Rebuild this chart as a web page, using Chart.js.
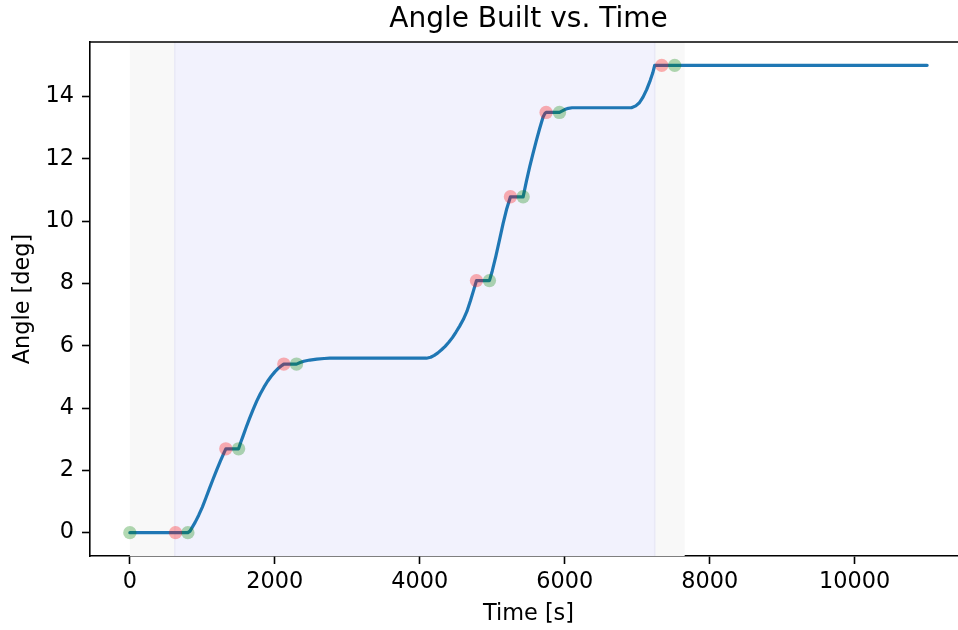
<!DOCTYPE html>
<html lang="en">

<head>
    <meta charset="utf-8" />
    <title>Angle Built vs. Time</title>
    <script src="https://cdn.jsdelivr.net/npm/chart.js"></script>
    <style>
        html, body { margin: 0; padding: 0; background: #fff; overflow: hidden; width: 958px; height: 630px; }
        #wrap { width: 1000px; height: 630px; }
    </style>
</head>

<body>
    <div id="wrap"><canvas id="angleChart" width="1000" height="630"></canvas></div>

    <script>
        // built angle curve
        const lineTimes = [0, 630, 800, 830, 860, 900, 950, 1000, 1050, 1100, 1150, 1200, 1250, 1300, 1324,
            1500, 1530, 1560, 1600, 1650, 1700, 1750, 1800, 1850, 1900, 1950, 2000, 2050, 2100, 2124,
            2299, 2350, 2400, 2483, 2580, 2680, 2759,
            4092, 4150, 4200, 4250, 4300, 4350, 4400, 4450, 4500, 4550, 4600, 4650, 4700, 4740, 4782,
            4961, 5000, 5050, 5100, 5150, 5200, 5251,
            5426, 5470, 5517, 5560, 5609, 5655, 5701, 5725, 5743,
            5927, 5960, 6000, 6050, 6100,
            6920, 6980, 7030, 7080, 7130, 7180, 7215, 7241, 11000];
        const lineAngles = [0, 0, 0, 0.05, 0.17, 0.33, 0.56, 0.82, 1.12, 1.43, 1.73, 2.02, 2.30, 2.57, 2.69,
            2.69, 2.90, 3.09, 3.35, 3.66, 3.95, 4.22, 4.46, 4.67, 4.86, 5.02, 5.16, 5.28, 5.37, 5.41,
            5.41, 5.46, 5.50, 5.54, 5.57, 5.59, 5.60,
            5.60, 5.63, 5.69, 5.77, 5.87, 5.98, 6.11, 6.26, 6.44, 6.63, 6.84, 7.10, 7.45, 7.76, 8.09,
            8.09, 8.40, 8.88, 9.40, 9.93, 10.40, 10.78,
            10.78, 11.27, 11.75, 12.15, 12.59, 12.98, 13.34, 13.45, 13.49,
            13.49, 13.53, 13.58, 13.62, 13.64,
            13.64, 13.70, 13.80, 13.98, 14.22, 14.52, 14.76, 15.0, 15.0];

        // stage end / start markers
        const redTimes = [630, 1324, 2124, 4782, 5251, 5743, 7338];
        const redAngles = [0, 2.69, 5.41, 8.09, 10.78, 13.49, 15.0];
        const greenTimes = [0, 800, 1500, 2299, 4961, 5426, 5927, 7517];
        const greenAngles = [0, 0, 2.69, 5.41, 8.09, 10.78, 13.49, 15.0];

        // shaded phases [start, end]
        const graySpans = [[0, 620], [7241, 7655]];
        const blueSpans = [[620, 7241]];

        const xTicks = [0, 2000, 4000, 6000, 8000, 10000];
        const yTicks = [0, 2, 4, 6, 8, 10, 12, 14];

        const toXY = (xs, ys) => xs.map((x, i) => ({ x: x, y: ys[i] }));

        const spanPlugin = {
            id: 'spans',
            beforeDatasetsDraw(chart) {
                const { ctx, chartArea, scales } = chart;
                const x = scales.x;
                const draw = (spans, fill, edge) => {
                    spans.forEach(([a, b]) => {
                        const x0 = x.getPixelForValue(a), x1 = x.getPixelForValue(b);
                        ctx.fillStyle = fill;
                        ctx.fillRect(x0, chartArea.top, x1 - x0, chartArea.bottom - chartArea.top);
                        if (edge) {
                            ctx.strokeStyle = edge;
                            ctx.lineWidth = 1.5;
                            ctx.beginPath();
                            ctx.moveTo(x0, chartArea.top); ctx.lineTo(x0, chartArea.bottom);
                            ctx.moveTo(x1, chartArea.top); ctx.lineTo(x1, chartArea.bottom);
                            ctx.stroke();
                        }
                    });
                };
                ctx.save();
                draw(graySpans, '#f8f8f8', null);
                draw(blueSpans, '#f2f2fd', '#e9e9f6');
                ctx.restore();
            },
            afterDraw(chart) {
                // top spine (right spine is outside the picture)
                const { ctx, chartArea } = chart;
                ctx.save();
                ctx.strokeStyle = '#000';
                ctx.lineWidth = 1.6;
                ctx.beginPath();
                ctx.moveTo(chartArea.left - 0.8, chartArea.top);
                ctx.lineTo(chartArea.right, chartArea.top);
                ctx.stroke();
                ctx.restore();
            }
        };

        const font = { family: "'DejaVu Sans', sans-serif", size: 22.4, lineHeight: 1.2 };

        new Chart(document.getElementById('angleChart'), {
            type: 'line',
            data: {
                datasets: [{
                    label: 'Angle',
                    data: toXY(lineTimes, lineAngles),
                    borderColor: '#1f77b4',
                    borderWidth: 3.2,
                    pointRadius: 0,
                    tension: 0,
                    borderJoinStyle: 'round',
                    borderCapStyle: 'round',
                    order: 2
                }, {
                    label: 'Stage end',
                    type: 'scatter',
                    data: toXY(redTimes, redAngles),
                    backgroundColor: 'rgba(255, 0, 0, 0.3)',
                    borderWidth: 0,
                    pointRadius: 6.7,
                    order: 1
                }, {
                    label: 'Stage start',
                    type: 'scatter',
                    data: toXY(greenTimes, greenAngles),
                    backgroundColor: 'rgba(0, 128, 0, 0.3)',
                    borderWidth: 0,
                    pointRadius: 6.7,
                    order: 1
                }]
            },
            options: {
                responsive: false,
                animation: false,
                layout: { padding: { left: 0, right: 33, top: 0, bottom: 0 } },
                plugins: {
                    legend: { display: false },
                    tooltip: { enabled: false },
                    title: {
                        display: true,
                        text: 'Angle Built vs. Time',
                        fullSize: false,
                        color: '#000',
                        font: { family: "'DejaVu Sans', sans-serif", size: 28, weight: 'normal', lineHeight: 1.2 },
                        padding: { top: 3, bottom: 5.4 }
                    }
                },
                scales: {
                    x: {
                        type: 'linear',
                        min: -550,
                        max: 11550,
                        afterBuildTicks: s => { s.ticks = xTicks.map(v => ({ value: v })); },
                        afterFit: s => { s.height = 74; },
                        grid: { drawOnChartArea: false, drawTicks: true, tickLength: 8, color: '#000', tickWidth: 1.6 },
                        border: { display: true, color: '#000', width: 1.6 },
                        ticks: { color: '#000', font: font, padding: 5, maxRotation: 0, autoSkip: false, callback: v => String(v) },
                        title: { display: true, text: 'Time [s]', color: '#000', font: font, padding: { top: 0, bottom: 2.6 } }
                    },
                    y: {
                        type: 'linear',
                        min: -0.75,
                        max: 15.75,
                        afterBuildTicks: s => { s.ticks = yTicks.map(v => ({ value: v })); },
                        afterFit: s => { s.width = 90; },
                        grid: { drawOnChartArea: false, drawTicks: true, tickLength: 8, color: '#000', tickWidth: 1.6 },
                        border: { display: true, color: '#000', width: 1.6 },
                        ticks: { color: '#000', font: font, padding: 8, autoSkip: false, callback: v => String(v) },
                        title: { display: true, text: 'Angle [deg]', color: '#000', font: font, padding: { top: 9.6, bottom: 0 } }
                    }
                }
            },
            plugins: [spanPlugin]
        });
    </script>
</body>

</html>
